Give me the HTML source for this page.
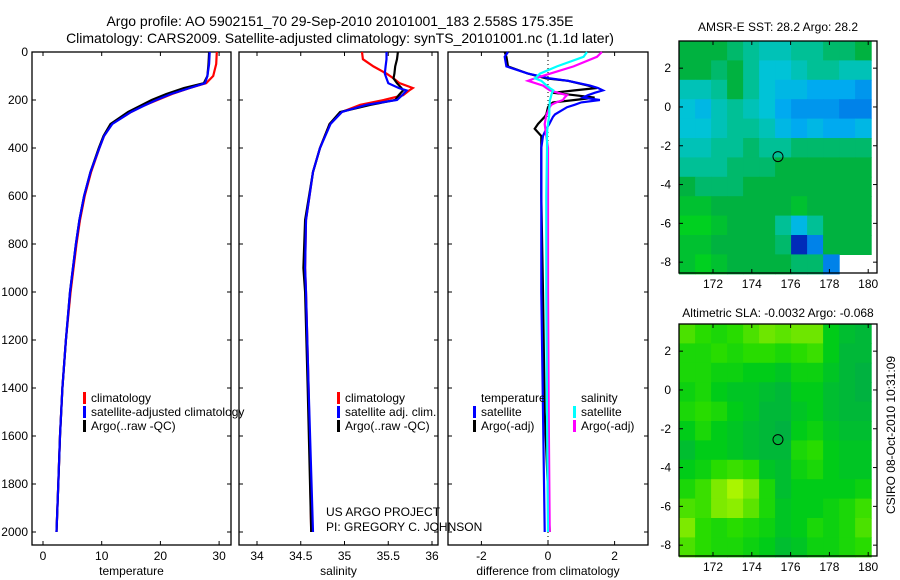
<!DOCTYPE html>
<html><head><meta charset="utf-8"><style>
html,body{margin:0;padding:0;background:#fff;}
svg{display:block;font-family:"Liberation Sans",sans-serif;}
</style></head><body>
<svg id="fig" width="900" height="580" viewBox="0 0 900 580" xmlns="http://www.w3.org/2000/svg">
<text x="340" y="26" font-size="14" text-anchor="middle">Argo profile: AO 5902151_70 29-Sep-2010 20101001_183 2.558S 175.35E</text>
<text x="340" y="43" font-size="14" text-anchor="middle">Climatology: CARS2009. Satellite-adjusted climatology: synTS_20101001.nc (1.1d later)</text>
<text x="778" y="31" font-size="12" text-anchor="middle">AMSR-E SST: 28.2 Argo: 28.2</text>
<text x="778" y="317" font-size="12" text-anchor="middle">Altimetric SLA: -0.0032 Argo: -0.068</text>
<text transform="translate(895,435) rotate(-90)" font-size="12" text-anchor="middle">CSIRO 08-Oct-2010 10:31:09</text>
<text x="326" y="516" font-size="12">US ARGO PROJECT</text>
<text x="326" y="531" font-size="12">PI: GREGORY C. JOHNSON</text>
<g id="plots"></g>
</svg>
<script>
// ---- profile data ----
const depths = [0,50,100,130,150,175,200,225,250,300,350,400,500,600,700,800,1000,1200,1400,1600,1800,2000];
const tempClim = [29.6,29.5,29.0,27.8,25,22,19.5,17,15,11.7,10.4,9.6,8.2,7.1,6.3,5.7,4.7,3.9,3.3,2.9,2.6,2.3];
const tempArgo = [28.3,28.2,28.0,27.4,24,21,18.5,16.5,14.5,11.5,10.3,9.5,8.1,7.0,6.2,5.6,4.6,3.9,3.3,2.9,2.6,2.3];
const tempSat = [28.4,28.3,28.0,27.6,25,21.8,19.3,17.1,15,11.8,10.4,9.6,8.1,7.0,6.2,5.6,4.6,3.9,3.3,2.9,2.6,2.3];
const salDepths = [0,30,60,90,110,130,150,160,180,200,220,250,300,400,500,700,900,1000,1400,2000];
const salClim = [35.2,35.21,35.33,35.48,35.56,35.63,35.78,35.74,35.67,35.45,35.18,34.97,34.83,34.72,34.64,34.56,34.55,34.56,34.59,34.62];
const salArgo = [35.61,35.6,35.58,35.57,35.56,35.6,35.65,35.67,35.62,35.58,35.3,34.95,34.83,34.72,34.64,34.55,34.53,34.55,34.58,34.62];
const salSat = [35.48,35.48,35.47,35.46,35.48,35.5,35.62,35.71,35.66,35.6,35.25,34.97,34.84,34.72,34.64,34.56,34.55,34.56,34.59,34.64];
const diffDepths = [0,20,60,90,110,120,140,150,160,170,180,190,200,210,220,230,260,270,300,320,350,400,600,1000,1500,2000];
const diffTSat = [-1.2,-1.3,-1.25,-0.6,0.06,0.6,1.26,1.5,1.65,1.4,1.2,1.05,1.56,1.0,0.8,0.57,0.21,0.15,0.04,-0.05,-0.15,-0.2,-0.2,-0.2,-0.15,-0.1];
const diffTArgo = [-1.3,-1.25,-1.2,-0.6,-0.05,0.6,1.2,1.47,0.8,0.15,0.8,1.4,0.8,0.15,0.05,0.0,-0.05,-0.1,-0.3,-0.4,-0.2,-0.2,-0.2,-0.15,-0.1,0.05];
const diffSSat = [1.17,1.07,0.27,-0.24,-0.39,-0.2,-0.04,0.05,0.16,0.12,0.1,0.08,0.06,0.05,0.05,0.04,0.04,0.03,0.0,-0.02,-0.03,-0.03,-0.05,-0.05,-0.03,0.0];
const diffSArgo = [1.62,1.47,0.77,0.07,-0.4,-0.6,-0.15,-0.05,0.06,0.3,0.57,0.5,0.45,0.25,0.1,0.05,-0.04,-0.06,-0.1,-0.08,-0.05,0.0,0.0,0.0,0.02,0.05];
const depthTicks = [0,200,400,600,800,1000,1200,1400,1600,1800,2000];
const tempTicks = [0,10,20,30];
const salTicks = [34,34.5,35,35.5,36];
const diffTicks = [-2,0,2];
// ---- map data (rows north->south, cols west->east) ----
const mapLats = [3.4,-8.6];
const mapLons = [170.25,180.15];
const sstGrid = [
[28.5,28.5,28.5,28.4,28.3,28.2,28.2,28.3,28.3,28.4,28.4,28.5],
[28.5,28.5,28.4,28.5,28.3,28.1,28.1,28.2,28.3,28.3,28.2,28.2],
[28.2,28.2,28.3,28.5,28.3,28.1,28.0,28.0,27.9,27.9,27.9,27.8],
[28.1,28.0,28.2,28.3,28.2,28.1,27.9,27.8,27.8,27.8,27.7,27.7],
[28.1,28.1,28.2,28.3,28.3,28.2,28.0,27.9,28.0,27.9,27.9,28.0],
[28.2,28.2,28.3,28.3,28.4,28.3,28.3,28.4,28.4,28.4,28.4,28.4],
[28.3,28.3,28.3,28.4,28.4,28.4,28.5,28.5,28.5,28.5,28.5,28.5],
[28.5,28.4,28.4,28.4,28.5,28.5,28.5,28.5,28.5,28.5,28.5,28.5],
[28.6,28.6,28.5,28.5,28.5,28.5,28.5,28.6,28.5,28.5,28.5,28.5],
[28.7,28.7,28.6,28.5,28.5,28.5,28.3,28.0,28.3,28.5,28.5,28.5],
[28.6,28.6,28.5,28.5,28.5,28.5,28.4,27.3,27.7,28.5,28.5,28.5],
[28.6,28.7,28.6,28.5,28.5,28.5,28.5,28.4,28.4,27.7,null,null]];
const slaGrid = [
[0.05,0.03,0.02,0.03,0.05,0.07,0.06,0.07,0.07,0.0,-0.02,-0.03],
[0.02,0.02,0.03,0.02,0.03,0.03,0.02,0.03,0.04,0.0,-0.03,-0.03],
[0.02,0.02,0.01,0.01,0.0,0.0,-0.01,0.01,0.01,-0.01,-0.03,-0.04],
[0.01,0.02,0.0,-0.01,-0.01,-0.02,-0.03,0.0,0.0,-0.02,-0.03,-0.04],
[0.02,0.03,0.02,0.0,-0.01,-0.03,-0.03,-0.01,0.0,-0.02,-0.03,-0.03],
[0.0,0.02,0.0,-0.01,-0.02,-0.03,-0.04,0.0,0.01,-0.01,-0.02,-0.02],
[-0.02,0.0,0.0,-0.01,-0.02,-0.03,-0.03,0.02,0.03,0.0,-0.01,-0.01],
[0.0,0.01,0.03,0.04,0.03,-0.01,-0.02,0.01,0.02,0.0,-0.01,-0.01],
[0.02,0.04,0.08,0.11,0.08,0.02,-0.02,0.0,0.0,0.0,0.0,0.01],
[0.05,0.04,0.08,0.09,0.06,0.02,-0.01,0.0,0.0,0.01,0.02,0.04],
[0.08,0.03,0.02,0.03,0.02,0.01,-0.01,0.0,0.02,0.01,0.02,0.05],
[0.05,0.03,0.02,0.02,0.01,0.0,-0.02,-0.01,0.01,0.01,0.02,0.03]];
const floatPos = [175.35,-2.558];
const lonTicks = [172,174,176,178,180];
const latTicks = [2,0,-2,-4,-6,-8];

const NS = "http://www.w3.org/2000/svg";
const root = document.getElementById('plots');
function mk(tag, attrs, parent){const e=document.createElementNS(NS,tag);for(const k in attrs)e.setAttribute(k,attrs[k]);(parent||root).appendChild(e);return e;}
const PY0=52, PY1=545;
const yD = d => 52 + d*0.24;

function panel(name, x0, x1, xs, ticks, label, showY){
  const g = mk('g',{});
  
  
  const fr = mk('rect',{x:x0,y:PY0,width:x1-x0,height:PY1-PY0,fill:'none',stroke:'#000','stroke-width':1.3},g);
  
  
  ticks.forEach(t=>{
    const x=xs(t);
    mk('line',{x1:x,x2:x,y1:PY1,y2:PY1-4,stroke:'#000'},g);
    mk('line',{x1:x,x2:x,y1:PY0,y2:PY0+4,stroke:'#000'},g);
    const tl = mk('text',{x:x,y:PY1+15,'font-size':12,'text-anchor':'middle'},g);
    tl.textContent = t;
    
    
  });
  depthTicks.forEach(d=>{
    const y=yD(d);
    mk('line',{x1:x0,x2:x0+4,y1:y,y2:y,stroke:'#000'},g);
    mk('line',{x1:x1,x2:x1-4,y1:y,y2:y,stroke:'#000'},g);
    if(showY){
      const tl = mk('text',{x:x0-4,y:y+4,'font-size':12,'text-anchor':'end'},g);
      tl.textContent = d;
      
      
    }
  });
  const lab = mk('text',{x:(x0+x1)/2,y:PY1+30,'font-size':12,'text-anchor':'middle'},g);
  lab.textContent = label;
  
  
  return {g, xs};
}
function series(p, ds, vals, color, name){
  const pts = vals.map((v,i)=>p.xs(v).toFixed(1)+','+yD(ds[i]).toFixed(1)).join(' ');
  const l = mk('polyline',{points:pts,fill:'none',stroke:color,'stroke-width':2.2},p.g);
  
  
}
function legend(g, x, y, color, text, name){
  if(color) mk('rect',{x:x,y:y-10,width:3,height:12,fill:color},g);
  const t = mk('text',{x:x+(color?8:0),y:y,'font-size':12},g);
  t.textContent = text;
  
  
}

const p1 = panel('temperature-panel', 32, 231, v => 43 + v*5.87, tempTicks, 'temperature', true);
series(p1, depths, tempClim, '#f00', 'temperature-climatology-line');
series(p1, depths, tempArgo, '#000', 'temperature-argo-line');
series(p1, depths, tempSat, '#00f', 'temperature-satellite-adjusted-line');
legend(p1.g, 83, 402, '#f00', 'climatology', 'legend-climatology');
legend(p1.g, 83, 416, '#00f', 'satellite-adjusted climatology', 'legend-satellite-adjusted');
legend(p1.g, 83, 430, '#000', 'Argo(..raw -QC)', 'legend-argo');

const p2 = panel('salinity-panel', 239, 438, v => 257 + (v-34)*87.5, salTicks, 'salinity', false);
series(p2, salDepths, salClim, '#f00', 'salinity-climatology-line');
series(p2, salDepths, salArgo, '#000', 'salinity-argo-line');
series(p2, salDepths, salSat, '#00f', 'salinity-satellite-adjusted-line');
legend(p2.g, 337, 402, '#f00', 'climatology', 'legend-sal-climatology');
legend(p2.g, 337, 416, '#00f', 'satellite adj. clim.', 'legend-sal-satellite');
legend(p2.g, 337, 430, '#000', 'Argo(..raw -QC)', 'legend-sal-argo');

const p3 = panel('difference-panel', 448, 648, v => 548 + v*33.3, diffTicks, 'difference from climatology', false);
mk('line',{x1:548,x2:548,y1:PY0,y2:PY1,stroke:'#000','stroke-dasharray':'1,3'},p3.g);
series(p3, diffDepths, diffTArgo, '#000', 'diff-temperature-argo-line');
series(p3, diffDepths, diffTSat, '#00f', 'diff-temperature-satellite-line');
series(p3, diffDepths, diffSArgo, '#f0f', 'diff-salinity-argo-line');
series(p3, diffDepths, diffSSat, '#0ff', 'diff-salinity-satellite-line');
legend(p3.g, 481, 402, null, 'temperature', 'legend-diff-temperature-header');
legend(p3.g, 473, 416, '#00f', 'satellite', 'legend-diff-temp-satellite');
legend(p3.g, 473, 430, '#000', 'Argo(-adj)', 'legend-diff-temp-argo');
legend(p3.g, 581, 402, null, 'salinity', 'legend-diff-salinity-header');
legend(p3.g, 573, 416, '#0ff', 'satellite', 'legend-diff-sal-satellite');
legend(p3.g, 573, 430, '#f0f', 'Argo(-adj)', 'legend-diff-sal-argo');

// ---- maps ----
function rgb(c){return 'rgb('+c.join(',')+')';}
function lerpColor(stops, v){
  if(v<=stops[0][0]) return rgb(stops[0][1]);
  for(let i=1;i<stops.length;i++){
    if(v<=stops[i][0]){
      const [a,ca]=stops[i-1],[b,cb]=stops[i];const f=(v-a)/(b-a);
      return rgb(ca.map((c,j)=>Math.round(c+(cb[j]-c)*f)));
    }
  }
  return rgb(stops[stops.length-1][1]);
}
const sstStops=[[27.2,[0,20,170]],[27.6,[0,110,230]],[27.9,[0,170,240]],[28.1,[0,195,215]],[28.3,[0,192,150]],[28.5,[0,178,64]],[28.7,[0,208,32]],[28.9,[150,240,0]],[29.1,[240,240,0]]];
const slaStops=[[-0.04,[0,178,64]],[-0.02,[0,190,48]],[0,[0,204,24]],[0.03,[40,220,0]],[0.07,[110,230,0]],[0.11,[170,245,0]]];
function mapPanel(name, top, grid, stops){
  const g = mk('g',{});
  
  
  const L=679,R=877,B=top+232;
  const lx = lon => 713 + (lon-172)*19.4;
  const ly = lat => top + (3.4-lat)*19.4;
  const nr=grid.length, nc=grid[0].length;
  const dLat=(mapLats[0]-mapLats[1])/nr, dLon=(mapLons[1]-mapLons[0])/nc;
  grid.forEach((row,r)=>row.forEach((v,c)=>{
    if(v===null) return;
    const x=lx(mapLons[0]+c*dLon), y=ly(mapLats[0]-r*dLat);
    const cell = mk('rect',{x:x.toFixed(1),y:y.toFixed(1),width:(dLon*19.4+0.6).toFixed(1),height:(dLat*19.4+0.6).toFixed(1),fill:lerpColor(stops,v)},g);
    
    
  }));
  const m = mk('circle',{cx:lx(floatPos[0]),cy:ly(floatPos[1]),r:5,fill:'none',stroke:'#000','stroke-width':1},g);
  
  
  mk('rect',{x:L,y:top,width:R-L,height:B-top,fill:'none',stroke:'#000','stroke-width':1.3},g);
  lonTicks.forEach(t=>{
    const x=lx(t);
    mk('line',{x1:x,x2:x,y1:B,y2:B-4,stroke:'#000'},g);
    mk('line',{x1:x,x2:x,y1:top,y2:top+4,stroke:'#000'},g);
    const tl=mk('text',{x:x,y:B+15,'font-size':12,'text-anchor':'middle'},g);
    tl.textContent=t;
    
    
  });
  latTicks.forEach(t=>{
    const y=ly(t);
    mk('line',{x1:L,x2:L+4,y1:y,y2:y,stroke:'#000'},g);
    mk('line',{x1:R,x2:R-4,y1:y,y2:y,stroke:'#000'},g);
    const tl=mk('text',{x:L-8,y:y+4,'font-size':12,'text-anchor':'end'},g);
    tl.textContent=t;
    
    
  });
}
mapPanel('sst-map', 41, sstGrid, sstStops);
mapPanel('sla-map', 324, slaGrid, slaStops);
</script>
</body></html>
